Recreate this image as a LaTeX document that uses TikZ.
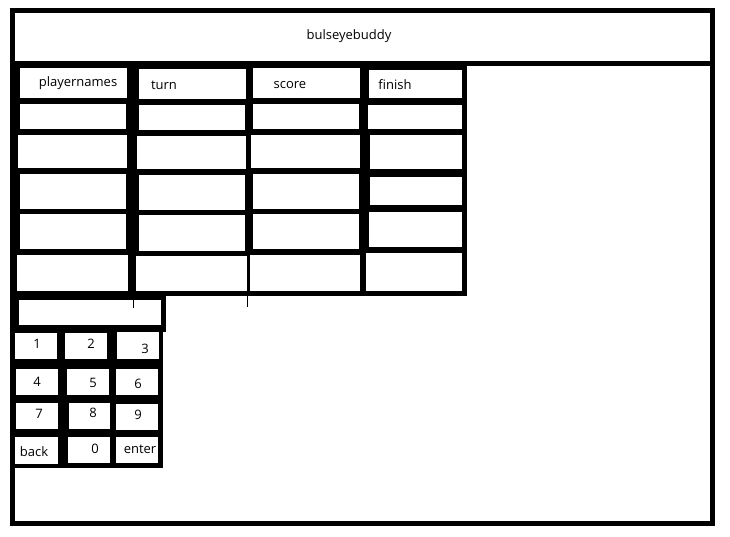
\documentclass[tikz,border=0pt]{standalone}
\usepackage{fontspec}
\setmainfont{Open Sans}
\usetikzlibrary{positioning}

\tikzset{
  frame/.style={line width=5pt},
  cellbox/.style={fill=white, inner sep=0pt, outer sep=0pt},
  txt/.style={inner sep=0pt, anchor=base, font=\fontsize{13}{15}\selectfont},
  tick/.style={line width=1pt}
}

\begin{document}
\begin{tikzpicture}[x=1pt, y=-1pt]
        \useasboundingbox (0,0) rectangle (730,536);

        % Frame and title bar
        \draw[frame] (12.5,10.5) rectangle (712.5,523);
        \draw[frame] (10,63) -- (715,63);
        \node (title) [txt] at (349,39) {bulseyebuddy};

        % Black ground under table and keypad
        \fill (15,63) rectangle (467,296);
        \fill (15,296) rectangle (166,332);
        \fill (15,332) rectangle (163,468);

        % Table cells
        \foreach \n/\xa/\ya/\xb/\yb in {
            h1/20/68/127/98, h2/139/69/246/99, h3/253/68/360/98, h4/369/70/462/98,
            a1/20/104/126/129, a2/139/105/245/130, a3/253/104/359/129, a4/368/105/462/129,
            b1/18/135/127/168, b2/137/136/246/169, b3/251/135/360/168, b4/370/135/462/169,
            c1/20/174/126/209, c2/139/175/245/210, c3/253/174/359/209, c4/370/177/462/205,
            d1/20/214/126/249, d2/139/215/245/251, d3/253/214/359/249, d4/369/212/462/247,
            e1/17/255/128/291, e2/136/256/247/291, e3/250/255/360/291, e4/366/253/462/291}
            \node (\n) [cellbox, minimum width={(\xb-\xa)*1pt}, minimum height={(\yb-\ya)*1pt}]
                at ({(\xa+\xb)/2},{(\ya+\yb)/2}) {};

        % Input box and keys
        \foreach \n/\xa/\ya/\xb/\yb in {
            inp/19/300/161/325,
            k1/15/333/57/359, k2/65/333/107/359, k3/117/332/159/359,
            k4/16/369/58/395, k5/67/369/109/395, k6/116/369/158/395,
            k7/16/403/58/429, k8/69/403/110/429, k9/116/404/158/430,
            kb/15/437/58/464, k0/68/437/110/463, ke/116/437/158/463}
            \node (\n) [cellbox, minimum width={(\xb-\xa)*1pt}, minimum height={(\yb-\ya)*1pt}]
                at ({(\xa+\xb)/2},{(\ya+\yb)/2}) {};

        % Labels
        \foreach \n/\x/\y/\t in {
            lpn/78/86/playernames, ltu/164/89/turn, lsc/290/88/score, lfi/395/89/finish,
            l1/37/348/1, l2/91/348/2, l3/145/353/3,
            l4/37/386/4, l5/93/387/5, l6/138/388/6,
            l7/39/418/7, l8/93/417/8, l9/138/419/9,
            lb/34/456/back, l0/95/453/0, le/140/453/enter}
            \node (\n) [txt] at (\x,\y) {\t};

        % Stray ticks under the table
        \draw[tick] (133,296) -- (133,308);
        \draw[tick] (247,296) -- (247,307);
\end{tikzpicture}
\end{document}
